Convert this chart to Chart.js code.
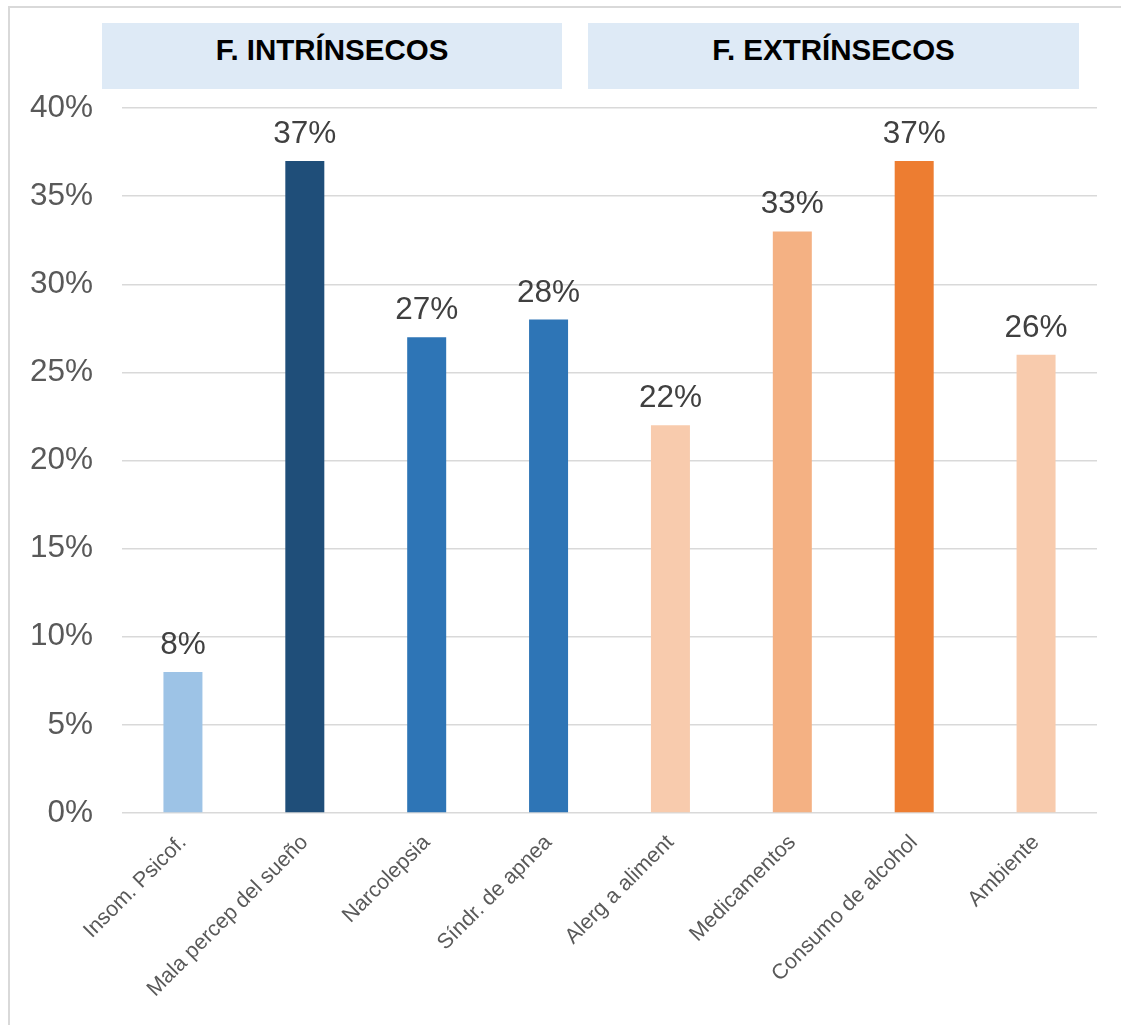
<!DOCTYPE html>
<html><head><meta charset="utf-8">
<script src="https://cdn.jsdelivr.net/npm/chart.js@4.4.1/dist/chart.umd.min.js"></script>
<style>
html,body{margin:0;padding:0;background:#fff;}
#wrap{position:relative;width:1121px;height:1025px;overflow:hidden;background:#fff;}
#frame{position:absolute;left:8px;top:6px;width:1200px;height:1100px;border-top:2px solid #d9d9d9;border-left:2px solid #d9d9d9;}
#c{position:absolute;left:0;top:0;}
.hdr{position:absolute;top:23px;height:66px;box-sizing:border-box;padding-bottom:12px;background:#DEEAF6;font:bold 29.5px "Liberation Sans",Arial,sans-serif;color:#000;display:flex;align-items:center;justify-content:center;}
</style>
</head><body>
<div id="wrap">
<div id="frame"></div>
<canvas id="c" width="1121" height="1025"></canvas>
<div class="hdr" id="h1" style="left:102px;width:460px;"></div>
<div class="hdr" id="h2" style="left:588px;width:491px;"></div>
</div>
<script>
const groupTitles = ["F. INTRÍNSECOS", "F. EXTRÍNSECOS"];
const categories = ["Insom. Psicof.", "Mala percep del sueño", "Narcolepsia", "Síndr. de apnea", "Alerg a aliment", "Medicamentos", "Consumo de alcohol", "Ambiente"];
const values = [8, 37, 27, 28, 22, 33, 37, 26];
const barColors = ["#9DC3E6", "#1F4E79", "#2E75B6", "#2E75B6", "#F8CBAD", "#F4B183", "#ED7D31", "#F8CBAD"];
const yMin = 0, yMax = 40, yStep = 5;

document.getElementById('h1').textContent = groupTitles[0];
document.getElementById('h2').textContent = groupTitles[1];

const FAMILY = '"Liberation Sans", Arial, sans-serif';

const valueLabels = {
  id: 'valueLabels',
  afterDatasetsDraw(chart) {
    const ctx = chart.ctx;
    const meta = chart.getDatasetMeta(0);
    ctx.save();
    ctx.font = '31.5px ' + FAMILY;
    ctx.fillStyle = '#404040';
    ctx.textAlign = 'center';
    ctx.textBaseline = 'alphabetic';
    meta.data.forEach((el, i) => {
      ctx.fillText(values[i] + '%', el.x, el.y - 18);
    });
    ctx.restore();
  }
};

new Chart(document.getElementById('c'), {
  type: 'bar',
  data: {
    labels: categories,
    datasets: [{
      data: values,
      backgroundColor: barColors,
      barPercentage: 0.32,
      categoryPercentage: 1
    }]
  },
  options: {
    responsive: false,
    animation: false,
    layout: { padding: { top: 108, right: 24, left: 0, bottom: 0 } },
    plugins: { legend: { display: false }, tooltip: { enabled: false } },
    scales: {
      y: {
        min: yMin, max: yMax,
        ticks: { stepSize: yStep, callback: v => v + '%', font: { size: 31.5, family: FAMILY }, color: '#595959', padding: 29 },
        grid: { color: '#d9d9d9', lineWidth: 1.5, drawTicks: false },
        border: { display: false },
        afterFit(s) { s.width = 122; }
      },
      x: {
        ticks: { maxRotation: 45, minRotation: 45, font: { size: 21.5, family: FAMILY }, color: '#595959', padding: 17, autoSkip: false },
        grid: { display: false, drawTicks: false },
        border: { display: false },
        afterFit(s) { s.height = 212; }
      }
    }
  },
  plugins: [valueLabels]
});
</script>
</body></html>
